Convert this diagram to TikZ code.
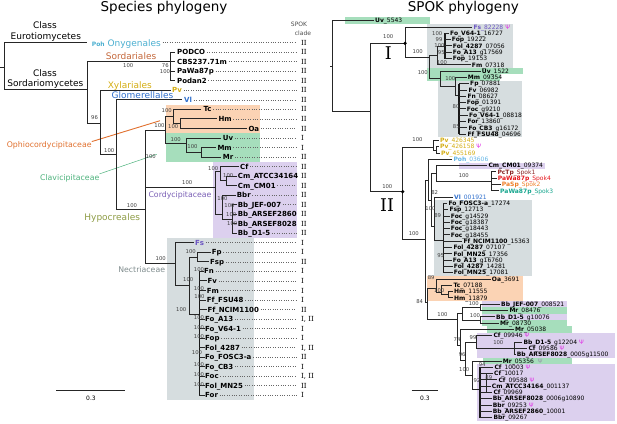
\documentclass[tikz,border=0pt]{standalone}
\usepackage{fontspec}
\setmainfont{DejaVu Sans}
\newfontfamily\cladefont{DejaVu Serif}
\definecolor{cgray}{HTML}{D6DDDF}
\definecolor{cgreen}{HTML}{A6DEBC}
\definecolor{cpeach}{HTML}{FBD3B4}
\definecolor{clav}{HTML}{DCD0EE}
\definecolor{cpoh}{HTML}{4BAFD0}
\definecolor{csord}{HTML}{C4673A}
\definecolor{cgold}{HTML}{D4AD12}
\definecolor{cblue}{HTML}{2F6FCC}
\definecolor{cpurple}{HTML}{6C55C2}
\definecolor{cophio}{HTML}{E0702E}
\definecolor{cclavi}{HTML}{4DB27C}
\definecolor{ccordy}{HTML}{7A5FB5}
\definecolor{chypo}{HTML}{8E9C45}
\definecolor{cnect}{HTML}{7F8C8D}
\definecolor{cpsi}{HTML}{E03CE6}
\definecolor{cpsig}{HTML}{9898AA}
\definecolor{cspokA}{HTML}{8B2525}
\definecolor{cspokD}{HTML}{E5161C}
\definecolor{cspokB}{HTML}{EE7D25}
\definecolor{cspokC}{HTML}{15A58D}
\definecolor{cpohr}{HTML}{62B5E5}
\tikzset{
  br/.style={line width=1pt, draw=black!85, line cap=rect},
  thk/.style={line width=1.6pt, draw=black!90},
  sup/.style={font=\fontsize{5.3}{6}\selectfont, text=black!75, inner sep=0pt},
  lleaf/.style={anchor=west, font=\fontsize{7}{8}\selectfont\bfseries, inner sep=0pt, text height=5.1pt, text depth=0pt},
  rleaf/.style={anchor=west, font=\fontsize{6}{7}\selectfont, inner sep=0pt, text height=4.4pt, text depth=0pt},
  cladelbl/.style={anchor=west, font=\fontsize{7}{8}\selectfont\cladefont, inner sep=0pt, text height=5pt, text depth=0pt},
  leader/.style={draw=black!60, line width=0.7pt, dash pattern=on 0.7pt off 1.7pt, shorten <=1.5pt},
  grp/.style={anchor=base, inner sep=0pt, font=\fontsize{9}{10}\selectfont},
  fam/.style={anchor=base, inner sep=0pt, font=\fontsize{7.8}{9}\selectfont},
  ttl/.style={anchor=base, inner sep=0pt, font=\fontsize{13.5}{15}\selectfont},
  dotnode/.style={circle, fill=black, inner sep=0pt, minimum size=3.6pt},
  small/.style={inner sep=0pt, font=\fontsize{6}{7}\selectfont},
}
\newcommand{\LF}[6]{\node[lleaf,text=#5] (#1) at (#2,#3) {#4}; \node[cladelbl] (#1c) at (301,#3) {#6}; \draw[leader] (#1.east) -- (296.5,#3);}
\newcommand{\LFn}[6]{\node[lleaf,text=#5] (#1) at (#2,#3) {#4}; \node[cladelbl] (#1c) at (301,#3) {#6};}
\newcommand{\RL}[6]{\node[rleaf,text=#6] (#1) at (#2,#3) {\textbf{#4}#5};}
\newcommand{\psym}{\hspace{2pt}\textcolor{cpsi}{Ψ}}
\begin{document}
\begin{tikzpicture}[x=1pt,y=-1pt]
\useasboundingbox (0,0) rectangle (617,423);
% ---------- background boxes, left
\fill[cpeach] (165.7,105) rectangle (260,133.3);
\fill[cgreen] (165.7,133.3) rectangle (260,161.5);
\fill[clav] (213,162) rectangle (297,237.5);
\fill[cgray] (167.3,237.5) rectangle (254,400);
% ---------- background boxes, right
\fill[cgreen] (345,17.3) rectangle (430,24);
\fill[cgray] (427.3,23.8) rectangle (512.7,68);
\fill[cgreen] (427.3,68) rectangle (523.3,74.3);
\fill[cgreen] (427.3,74.3) rectangle (500,80.5);
\fill[cgray] (438.3,80.5) rectangle (522.3,137.3);
\fill[clav] (459.3,162.5) rectangle (545,169);
\fill[cgray] (434,200) rectangle (531.7,276);
\fill[cpeach] (427.3,276) rectangle (523.3,300.5);
\fill[clav] (481.7,301) rectangle (566.7,307.4);
\fill[cgreen] (481.7,307.4) rectangle (566.7,313.7);
\fill[clav] (481.7,313.7) rectangle (566.7,320);
\fill[cgreen] (481.7,320) rectangle (566.7,326.3);
\fill[cgreen] (486.7,326.3) rectangle (571.7,332.5);
\fill[clav] (476.7,332.5) rectangle (615,357.8);
\fill[cgreen] (483.3,357.8) rectangle (571.7,364.1);
\fill[clav] (476.7,364.1) rectangle (615,421);
% ---------- titles
\node[ttl] (t1) at (164,12) {Species phylogeny};
\node[ttl] (t2) at (463.3,12) {SPOK phylogeny};
\node[small, anchor=base, text=black!70] (h1) at (299,26.5) {SPOK};
\node[small, anchor=base, text=black!70] (h2) at (303,35) {clade};
% ---------- class / order / family labels
\node[grp] (c1) at (45,28.3) {Class};
\node[grp] (c2) at (45.8,39) {Eurotiomycetes};
\node[grp] (c3) at (45,76) {Class};
\node[grp] (c4) at (45.3,86) {Sordariomycetes};
\node[anchor=base west, inner sep=0pt, font=\fontsize{6}{7}\selectfont\bfseries, text=cpoh] (l0) at (91.7,46) {Poh};
\node[anchor=base west, inner sep=0pt, font=\fontsize{9}{10}\selectfont, text=cpoh] (ony) at (107.3,46) {Onygenales};
\draw[leader] (ony.base east) ++(0,-3.3) -- (296.5,42.7);
\node[cladelbl] (l0c) at (301,42.7) {II};
\node[grp, text=csord] (sord) at (131,59.3) {Sordariales};
\node[grp, text=cgold] (xyl) at (129.8,88.3) {Xylariales};
\node[grp, text=cblue] (glom) at (142.5,98.7) {Glomerellales};
\node[fam, text=cophio] (oph) at (49.2,147.7) {Ophiocordycipitaceae};
\node[fam, text=cclavi] (clv) at (69.7,180) {Clavicipitaceae};
\node[fam, text=ccordy] (cor) at (180,197.3) {Cordycipitaceae};
\node[grp, text=chypo] (hyp) at (112.2,220) {Hypocreales};
\node[fam, text=cnect] (nec) at (141.7,272.3) {Nectriaceae};
\coordinate (ophE) at (160,120.7);
\coordinate (clvE) at (156.7,154.3);
\draw[cophio, line width=0.9pt] (oph.north east) -- (ophE);
\draw[cclavi, line width=0.5pt] (clv.north east) -- (clvE);
% ---------- left tree
\draw[br] (0,67) -- (4,67)
 (4,42.7) -- (4,89.3) (4,42.7) -- (86,42.7) (4,89.3) -- (87,89.3)
 (87,61) -- (87,123.3) (87,61) -- (170.7,61)
 (170.7,52.2) -- (170.7,80.8)
 (170.7,52.2) -- (174.5,52.2) (170.7,61.8) -- (174.5,61.8) (170.7,71.3) -- (174.5,71.3) (170.7,80.8) -- (174.5,80.8)
 (87,123.3) -- (100,123.3)
 (100,90.4) -- (100,154) (100,90.4) -- (170,90.4)
 (100,154) -- (116.7,154)
 (116.7,99.9) -- (116.7,209.3) (116.7,99.9) -- (181.7,99.9)
 (116.7,209.3) -- (145,209.3)
 (145,130) -- (145,263.3) (145,130) -- (165.7,130)
 (165.7,116.5) -- (165.7,143.3) (165.7,116.5) -- (173.3,116.5)
 (173.3,109.4) -- (173.3,123.7) (173.3,109.4) -- (200.5,109.4)
 (173.3,123.7) -- (180,123.7)
 (180,118.9) -- (180,128.5) (180,118.9) -- (216,118.9) (180,128.5) -- (246,128.5)
 (165.7,143.3) -- (186.7,143.3)
 (186.7,138) -- (186.7,152.3) (186.7,138) -- (220.5,138)
 (186.7,152.3) -- (201.7,152.3)
 (201.7,147.5) -- (201.7,157.1) (201.7,147.5) -- (215,147.5) (201.7,157.1) -- (220.5,157.1)
 (145,187.3) -- (215,187.3)
 (215,171.4) -- (215,214) (215,171.4) -- (220,171.4)
 (220,166.6) -- (220,180.9) (220,166.6) -- (238,166.6)
 (220,180.9) -- (226,180.9)
 (226,176.1) -- (226,185.7) (226,176.1) -- (236,176.1) (226,185.7) -- (236,185.7)
 (215,214) -- (222,214)
 (222,195.2) -- (222,219) (222,195.2) -- (235,195.2)
 (222,219) -- (232,219)
 (232,204.7) -- (232,233.3)
 (232,204.7) -- (236,204.7) (232,214.2) -- (236,214.2) (232,223.8) -- (236,223.8) (232,233.3) -- (236,233.3)
 (145,263.3) -- (175,263.3)
 (175,242.8) -- (175,285.5) (175,242.8) -- (193,242.8)
 (175,285.5) -- (189.3,285.5)
 (189.3,257.2) -- (189.3,314) (189.3,257.2) -- (197,257.2)
 (197,252.4) -- (197,261.9) (197,252.4) -- (210,252.4) (197,261.9) -- (208.5,261.9)
 (189.3,314) -- (199.5,314);
\draw[thk] (199.5,271.4) -- (199.5,395.3);
\foreach \yy/\xx in {271.4/203,280.9/206,290.5/205.5,300/205.5,309.5/206,319.1/204,328.6/204,338.1/204,347.7/204,357.2/204,366.7/204,376.2/204,385.8/204,395.3/204}
  \draw[br] (199.5,\yy) -- (\xx,\yy);
% ---------- left leaves
\LF{l1}{177}{52.2}{PODCO}{black}{II}
\LF{l2}{177}{61.8}{CBS237.71m}{black}{II}
\LF{l3}{177}{71.3}{PaWa87p}{black}{II}
\LF{l4}{177}{80.8}{Podan2}{black}{II}
\LF{l5}{172}{90.4}{Pv}{cgold}{II}
\LF{l6}{184}{99.9}{Vl}{cblue}{II}
\LF{l7}{203.3}{109.4}{Tc}{black}{II}
\LF{l8}{218.3}{118.9}{Hm}{black}{II}
\LF{l9}{248.3}{128.5}{Oa}{black}{II}
\LF{l10}{222.7}{138.0}{Uv}{black}{I}
\LF{l11}{217.3}{147.5}{Mm}{black}{I}
\LF{l12}{222.7}{157.1}{Mr}{black}{II}
\LF{l13}{240}{166.6}{Cf}{black}{II}
\LFn{l14}{237.7}{176.1}{Cm\_ATCC34164}{black}{II}
\LF{l15}{237.7}{185.7}{Cm\_CM01}{black}{II}
\LF{l16}{236.7}{195.2}{Bbr}{black}{II}
\LF{l17}{237.7}{204.7}{Bb\_JEF-007}{black}{II}
\LFn{l18}{237.7}{214.2}{Bb\_ARSEF2860}{black}{II}
\LFn{l19}{237.7}{223.8}{Bb\_ARSEF8028}{black}{II}
\LF{l20}{237.7}{233.3}{Bb\_D1-5}{black}{II}
\LF{l21}{195}{242.8}{Fs}{cpurple}{I}
\LF{l22}{211.7}{252.4}{Fp}{black}{I}
\LF{l23}{210}{261.9}{Fsp}{black}{II}
\LF{l24}{204}{271.4}{Fn}{black}{I}
\LF{l25}{207.3}{280.9}{Fv}{black}{I}
\LF{l26}{206.7}{290.5}{Fm}{black}{I}
\LF{l27}{206.7}{300.0}{Ff\_FSU48}{black}{I}
\LF{l28}{207.3}{309.5}{Ff\_NCIM1100}{black}{II}
\LF{l29}{205}{319.1}{Fo\_A13}{black}{I, II}
\LF{l30}{205}{328.6}{Fo\_V64-1}{black}{I}
\LF{l31}{205}{338.1}{Fop}{black}{I}
\LF{l32}{205}{347.7}{Fol\_4287}{black}{I, II}
\LF{l33}{205}{357.2}{Fo\_FOSC3-a}{black}{II}
\LF{l34}{205}{366.7}{Fo\_CB3}{black}{I}
\LF{l35}{205}{376.2}{Foc}{black}{I, II}
\LF{l36}{205}{385.8}{Fol\_MN25}{black}{II}
\LF{l37}{205}{395.3}{For}{black}{I}
% ---------- left supports
\foreach \xx/\yy/\tt [count=\k] in {165.3/65.7/76, 165/71.3/100, 128.3/65.7/100, 94.5/117.7/96, 109.2/150.7/100, 132/206/100, 150.8/157/100, 166.7/110.7/100, 159.5/126/100, 173.3/126.7/100, 175.8/139.3/100, 192.5/146.7/100, 187.2/183/100, 213.3/169/100, 228.3/176/100, 222.5/199/100, 229.5/205.7/100, 231.3/214.7/100, 232.3/224/100, 160.8/258.7/100, 190.8/251.7/100, 188.3/279.5/100, 181.2/309.5/100, 199/269.5/100, 199/289/100, 199.5/296.5/100, 199/317.8/100, 199/327.3/100, 199/336.8/100, 197/352.3/100, 199/364.5/100, 199/375/100, 199/384.5/100}
  \node[sup] (sl\k) at (\xx,\yy) {\tt};
% ---------- left scale
\coordinate (scA) at (56,390.7);
\coordinate (scB) at (124.7,390.7);
\draw[br, line cap=butt] (scA) -- (scB);
\node[small] (scl) at (91,398.5) {0.3};
% ---------- right tree
\draw[br] (330,66) -- (332.7,66)
 (332.7,20.7) -- (332.7,111.7) (332.7,20.7) -- (373,20.7)
 (332.7,111.7) -- (370.7,111.7)
 (370.7,43.3) -- (370.7,191.7) (370.7,43.3) -- (405,43.3) (370.7,191.7) -- (402.7,191.7)
 (405,27) -- (405,57.3) (405,27) -- (471.5,27) (405,57.3) -- (429.3,57.3)
 (429.3,55) -- (429.3,78.3) (429.3,55) -- (437,55)
 (437,46) -- (437,64.8) (437,46) -- (445,46) (437,64.8) -- (470,64.8)
 (429.3,78.3) -- (440,78.3)
 (440,71.1) -- (440,86) (440,71.1) -- (480,71.1) (440,86) -- (455,86)
 (455,77.4) -- (455,95) (455,77.4) -- (466,77.4) (455,95) -- (459,95)
 (402.7,147) -- (402.7,239) (402.7,147) -- (433,147)
 (433,140.4) -- (433,150) (433,140.4) -- (438.5,140.4) (433,150) -- (436,150)
 (436,146.7) -- (436,153) (436,146.7) -- (438.5,146.7) (436,153) -- (439.5,153)
 (402.7,239) -- (425,239)
 (425,180) -- (425,302) (425,180) -- (428.3,180)
 (428.3,159.3) -- (428.3,200) (428.3,159.3) -- (451.5,159.3) (428.3,200) -- (431,200)
 (431,173.7) -- (431,226) (431,173.7) -- (436,173.7)
 (436,165.6) -- (436,181.5) (436,165.6) -- (486.5,165.6) (436,181.5) -- (491.7,181.5)
 (491.7,171.9) -- (491.7,190.8)
 (491.7,171.9) -- (495.8,171.9) (491.7,178.2) -- (496.2,178.2) (491.7,184.5) -- (500.2,184.5) (491.7,190.8) -- (498.5,190.8)
 (431,226) -- (434,226)
 (434,197.1) -- (434,240) (434,197.1) -- (452.5,197.1) (434,240) -- (443.3,240)
 (425,302) -- (427.7,302)
 (427.7,288) -- (427.7,319.3) (427.7,288) -- (436.7,288)
 (436.7,279) -- (436.7,292) (436.7,279) -- (490,279) (436.7,292) -- (441.7,292)
 (441.7,285.3) -- (441.7,294.75) (441.7,285.3) -- (451.8,285.3) (441.7,294.75) -- (448.3,294.75)
 (448.3,291.6) -- (448.3,297.9) (448.3,291.6) -- (452.5,291.6) (448.3,297.9) -- (452.5,297.9)
 (427.7,319.3) -- (457.3,319.3)
 (457.3,313.7) -- (457.3,345) (457.3,313.7) -- (462,313.7)
 (462,307.4) -- (462,320) (462,307.4) -- (480,307.4)
 (480,304.2) -- (480,310.5) (480,304.2) -- (499.5,304.2) (480,310.5) -- (507.8,310.5)
 (462,320) -- (480,320)
 (480,316.8) -- (480,323.1) (480,316.8) -- (494.5,316.8) (480,323.1) -- (498.5,323.1)
 (457.3,345) -- (460,345)
 (460,329.4) -- (460,360) (460,329.4) -- (513.5,329.4) (460,360) -- (465,360)
 (465,342) -- (465,375) (465,342) -- (476,342)
 (476,335.7) -- (476,348.5) (476,335.7) -- (491.8,335.7) (476,348.5) -- (514,348.5)
 (514,342) -- (514,354.6) (514,342) -- (521.8,342) (514,348.3) -- (526.8,348.3) (514,354.6) -- (515.2,354.6)
 (465,375) -- (472,375)
 (472,361) -- (472,389) (472,361) -- (501.2,361) (472,389) -- (480,389);
\draw[thk] (445,33.3) -- (445,58.5);
\draw[thk] (459,83.7) -- (459,134.1);
\draw[thk] (443.3,203.4) -- (443.3,272.7);
\draw[thk] (480,367.2) -- (480,417.6);
\foreach \yy/\xx in {33.3/448.5,39.6/450.2,45.9/451.2,52.2/451.2,58.5/451.2}
  \draw[br] (445,\yy) -- (\xx,\yy);
\foreach \yy/\xx in {83.7/468.5,90/466.8,96.3/465.8,102.6/465.2,108.9/465.2,115.2/467.5,121.5/465.8,127.8/466.8,134.1/465.8}
  \draw[br] (459,\yy) -- (\xx,\yy);
\foreach \yy/\xx in {203.4/446.8,209.7/447.8,216/449.2,222.3/449.2,228.6/449.2,234.9/449.2,241.2/461.8,247.5/451.8,253.8/451.8,260.1/451.2,266.4/452.2,272.7/452.2}
  \draw[br] (443.3,\yy) -- (\xx,\yy);
\foreach \yy/\xx in {367.2/492.8,373.5/492.5,379.8/496.8,386.1/490.2,392.4/491.8,398.7/491.2,405/491.2,411.3/491.2,417.6/491.8}
  \draw[br] (480,\yy) -- (\xx,\yy);
\draw[br] (486,373.5) -- (486,392.4);
\node[dotnode] (d1) at (405,43.3) {};
\node[dotnode] (d2) at (402.7,191.7) {};
\node[inner sep=0pt, font=\fontsize{17.5}{18}\selectfont\cladefont] (bigI) at (388.3,53) {I};
\node[inner sep=0pt, font=\fontsize{17.5}{18}\selectfont\cladefont] (bigII) at (387,205) {II};
% ---------- right leaves
\RL{r0}{375}{20.7}{Uv}{\_5543}{black}
\RL{r1}{473.3}{27.0}{Fs}{\_82228\psym}{cpurple}
\RL{r2}{450}{33.3}{Fo\_V64-1}{\_16727}{black}
\RL{r3}{451.7}{39.6}{Fop}{\_19222}{black}
\RL{r4}{452.7}{45.9}{Fol\_4287}{\_07056}{black}
\RL{r5}{452.7}{52.2}{Fo\_A13}{\_g17569}{black}
\RL{r6}{452.7}{58.5}{Fop}{\_19153}{black}
\RL{r7}{471.7}{64.8}{Fm}{\_07318}{black}
\RL{r8}{481.7}{71.1}{Uv}{\_1522}{black}
\RL{r9}{467.7}{77.4}{Mm}{\_09354}{black}
\RL{r10}{470}{83.7}{Fp}{\_07881}{black}
\RL{r11}{468.3}{90.0}{Fv}{\_06982}{black}
\RL{r12}{467.3}{96.3}{Fn}{\_08627}{black}
\RL{r13}{466.7}{102.6}{Fop}{\_01391}{black}
\RL{r14}{466.7}{108.9}{Foc}{\_g9210}{black}
\RL{r15}{469}{115.2}{Fo\_V64-1}{\_08818}{black}
\RL{r16}{467.3}{121.5}{For}{\_13860}{black}
\RL{r17}{468.3}{127.8}{Fo\_CB3}{\_g16172}{black}
\RL{r18}{467.3}{134.1}{Ff\_FSU48}{\_04696}{black}
\RL{r19}{440}{140.4}{Pv}{\_426345}{cgold}
\RL{r20}{440}{146.7}{Pv}{\_426158\psym}{cgold}
\RL{r21}{441}{153.0}{Pv}{\_455169}{cgold}
\RL{r22}{453.3}{159.3}{Poh}{\_03606}{cpohr}
\RL{r23}{488.3}{165.6}{Cm\_CM01}{\_09374}{black}
\RL{r24}{497.3}{171.9}{PcTp}{\_Spok1}{cspokA}
\RL{r25}{497.7}{178.2}{PaWa87p}{\_Spok4}{cspokD}
\RL{r26}{501.7}{184.5}{PaSp}{\_Spok2}{cspokB}
\RL{r27}{500}{190.8}{PaWa87p}{\_Spok3}{cspokC}
\RL{r28}{454}{197.1}{Vl}{\_001921}{cblue}
\RL{r29}{448.3}{203.4}{Fo\_FOSC3-a}{\_17274}{black}
\RL{r30}{449.3}{209.7}{Fsp}{\_12713}{black}
\RL{r31}{450.7}{216.0}{Foc}{\_g14529}{black}
\RL{r32}{450.7}{222.3}{Foc}{\_g18387}{black}
\RL{r33}{450.7}{228.6}{Foc}{\_g18443}{black}
\RL{r34}{450.7}{234.9}{Foc}{\_g18455}{black}
\RL{r35}{463.3}{241.2}{Ff\_NCIM1100}{\_15363}{black}
\RL{r36}{453.3}{247.5}{Fol\_4287}{\_07107}{black}
\RL{r37}{453.3}{253.8}{Fol\_MN25}{\_17356}{black}
\RL{r38}{452.7}{260.1}{Fo\_A13}{\_g16760}{black}
\RL{r39}{453.7}{266.4}{Fol\_4287}{\_14281}{black}
\RL{r40}{453.7}{272.7}{Fol\_MN25}{\_17081}{black}
\RL{r41}{491.7}{279.0}{Oa}{\_3691}{black}
\RL{r42}{453.3}{285.3}{Tc}{\_07188}{black}
\RL{r43}{454}{291.6}{Hm}{\_11555}{black}
\RL{r44}{454}{297.9}{Hm}{\_11879}{black}
\RL{r45}{501}{304.2}{Bb\_JEF-007}{\_008521}{black}
\RL{r46}{509.3}{310.5}{Mr}{\_08476}{black}
\RL{r47}{496}{316.8}{Bb\_D1-5}{\_g10076}{black}
\RL{r48}{500}{323.1}{Mr}{\_08730}{black}
\RL{r49}{515}{329.4}{Mr}{\_05038}{black}
\RL{r50}{493.3}{335.7}{Cf}{\_09946\psym}{black}
\RL{r51}{523.3}{342.0}{Bb\_D1-5}{\_g12204\psym}{black}
\RL{r52}{528.3}{348.3}{Cf}{\_09586\psym}{black}
\RL{r53}{516.7}{354.6}{Bb\_ARSEF8028}{\_0005g11500}{black}
\RL{r54}{502.7}{360.9}{Mr}{\_05356\hspace{4pt}\textcolor{cpsig}{Ψ}}{black}
\RL{r55}{494.3}{367.2}{Cf}{\_10003\psym}{black}
\RL{r56}{494}{373.5}{Cf}{\_10017}{black}
\RL{r57}{498.3}{379.8}{Cf}{\_09588\psym}{black}
\RL{r58}{491.7}{386.1}{Cm\_ATCC34164}{\_001137}{black}
\RL{r59}{493.3}{392.4}{Cf}{\_09969}{black}
\RL{r60}{492.7}{398.7}{Bb\_ARSEF8028}{\_0006g10890}{black}
\RL{r61}{492.7}{405.0}{Bbr}{\_09253\psym}{black}
\RL{r62}{492.7}{411.3}{Bb\_ARSEF2860}{\_10001}{black}
\RL{r63}{493.3}{417.6}{Bbr}{\_09267}{black}
% ---------- right supports
\foreach \xx/\yy/\tt [count=\k] in {388.3/36.7/100, 417.7/51.7/100, 437.2/33.3/100, 439/39.3/99, 439.5/46/100, 441.3/52.3/95, 442/62.3/100, 422.8/72.3/100, 450.3/78.3/100, 456/106.7/80, 456.3/126.7/85, 417.5/139.3/100, 387.3/186.7/100, 463.8/175.7/100, 434.7/192.3/82, 430.5/208.3/100, 437.7/216/89, 413.8/233.3/100, 440.7/256/95, 431.2/277.3/89, 439.2/290.7/100, 419.7/301.7/84, 442.5/314.3/100, 473.8/304/100, 475/316/100, 457/340/74, 473/337.7/99, 498.3/342.7/100, 462.2/355/96, 464.2/370/100, 482.2/364.3/94, 488.8/377.3/89, 477/381/92}
  \node[sup] (sr\k) at (\xx,\yy) {\tt};
% ---------- right scale
\coordinate (scC) at (411.7,390.7);
\coordinate (scD) at (438.3,390.7);
\draw[br, line cap=butt] (scC) -- (scD);
\node[small] (scr) at (425,398.5) {0.3};
\end{tikzpicture}
\end{document}
